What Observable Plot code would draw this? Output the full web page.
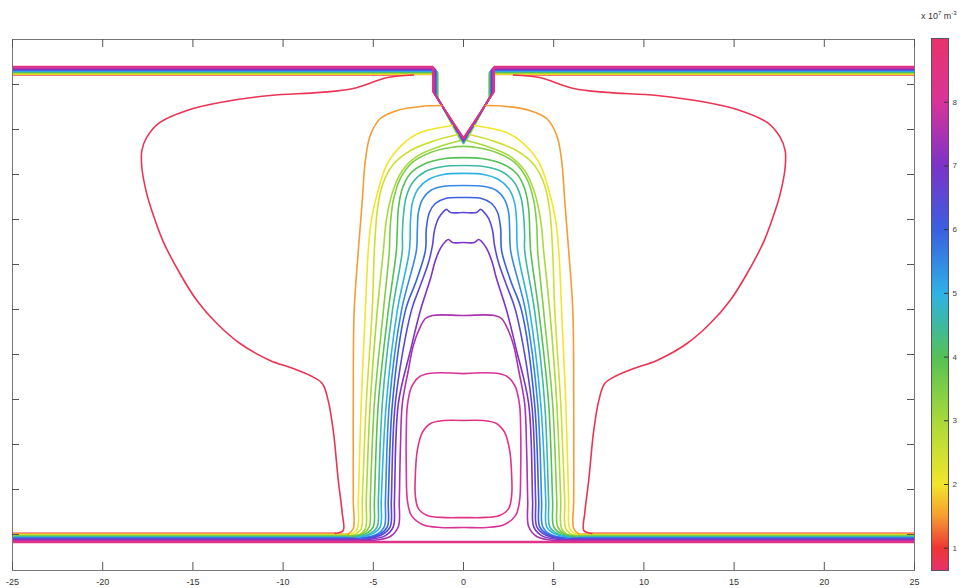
<!DOCTYPE html>
<html><head><meta charset="utf-8">
<script src="https://cdn.jsdelivr.net/npm/d3@7"></script>
<script src="https://cdn.jsdelivr.net/npm/@observablehq/plot@0.6"></script>
<style>
html,body{margin:0;padding:0;background:#fff;}
#wrap{position:relative;width:965px;height:588px;overflow:hidden;font-family:"Liberation Sans",Arial,sans-serif;background:#fff;}
#main{position:absolute;left:0;top:0;}
#cbar{position:absolute;left:920px;top:0;}
#unit{position:absolute;left:921px;top:10px;font-size:9px;color:#333;white-space:nowrap;}
#unit sup{font-size:6px;}
</style></head><body>
<div id="wrap"><div id="main"></div><div id="cbar"></div><div id="unit">x 10<sup>7</sup> m<sup>-3</sup></div></div>
<script>
// ---- axes / scale values ----
const xDomain = [-25, 25];
const yDomain = [-2, 27.5];
const xTicks = [-25, -20, -15, -10, -5, 0, 5, 10, 15, 20, 25];
const yTicks = [0, 2.5, 5, 7.5, 10, 12.5, 15, 17.5, 20, 22.5, 25];
const cbTicks = [1, 2, 3, 4, 5, 6, 7, 8];
const cmapValues = [0.65, 1.0, 1.5, 2.0, 3.0, 4.0, 4.5, 5.0, 6.0, 7.0, 8.0, 9.0];
const cmapColors = ["#e8336b", "#ee3535", "#f59c32", "#f3e52a", "#a9d93a", "#55c155", "#3fb9a0", "#2fb2e6", "#3a5fe0", "#7c33c9", "#d83399", "#e8336b"];

// ---- contour levels (x 10^7 m^-3) ----
const levels = [0.8, 1.5, 2, 2.5, 3, 3.5, 4, 4.5, 5, 5.5, 6, 6.5, 7, 7.5, 8, 8.5];
const topBandY = [25.53, 25.56, 25.58, 25.61, 25.64, 25.67, 25.69, 25.72, 25.75, 25.78, 25.81, 25.83, 25.86, 25.89, 25.94, 26.00];
const bottomBandY = [0.06, 0.03, 0, -0.03, -0.06, -0.08, -0.11, -0.14, -0.17, -0.19, -0.22, -0.25, -0.28, -0.33, -0.39, -0.44];
// notch (V tip) of the upper electrode
const notchWallX = 1.44, notchCornerY = 24.28, notchTipY = 21.72;

// ---- right halves of the contours (x >= 0), mirrored about x = 0 ----
const bell08 = [[25,25.53],[2.78,25.53],[4.22,25.39],[6.11,24.78],[7.94,24.56],[10.72,24.39],[13.5,24.0],[15.33,23.56],[16.83,22.89],[17.56,22.06],[17.83,21.33],[17.83,20.39],[17.56,18.94],[17.28,18.0],[16.67,16.33],[15.72,14.5],[14.78,13.0],[13.67,11.72],[12.39,10.61],[10.72,9.67],[9.44,9.22],[8.5,8.83],[7.83,8.39],[7.5,7.44],[7.22,5.78],[6.94,3.0],[6.72,1.17],[6.67,0.22],[7.11,0.06],[25,0.06]];
const orange15 = [[25,25.56],[1.44,25.56],[1.44,24.28],[1.22,23.83],[2.39,23.78],[3.67,23.56],[4.61,23.11],[5.17,22.17],[5.44,20.78],[5.61,18.56],[5.83,15.78],[6.06,12.44],[6.11,7.28],[6.11,1.89],[6.11,0.33],[6.39,0.03],[25,0.03]];
const yellow20 = [[25,25.58],[1.44,25.58],[1.44,24.28],[0.61,22.72],[2.39,22.33],[3.33,21.72],[4.22,20.61],[4.78,18.94],[5.11,17.44],[5.28,15.78],[5.44,12.44],[5.67,7.28],[5.83,1.89],[5.89,0.33],[6.28,0],[25,0]];
const yellow25 = [[25,25.61],[1.44,25.61],[1.44,24.28],[0.33,22.22],[1.56,21.89],[2.94,21.33],[3.94,20.5],[4.5,19.39],[4.78,18.0],[4.94,15.78],[5.06,12.44],[5.39,7.28],[5.61,1.89],[5.67,0.33],[6.06,-0.03],[25,-0.03]];
const green30 = [[25,25.64],[1.44,25.64],[1.44,24.28],[0.17,21.89],[1.17,21.61],[2.5,21.06],[3.39,20.22],[3.94,19.0],[4.28,17.44],[4.44,15.78],[4.78,12.44],[5.17,7.28],[5.39,1.89],[5.44,0.33],[5.83,-0.06],[25,-0.06]];
const sideHead = [2, 4, 4, 4, 4]; // points of each side contour that lie on the upper surface
const u35 = [[0,21.56],[0.72,21.5],[1.83,21.22],[2.83,20.67],[3.5,19.78],[3.89,18.56],[4.06,17.17],[4.11,15.78],[4.44,12.44],[4.94,7.28],[5.17,1.89],[5.22,0.44],[5.56,0.06],[6.28,-0.08],[25,-0.08]];
const u40 = [[0,20.94],[1.0,20.89],[2.11,20.61],[2.94,20.06],[3.39,19.22],[3.61,18.11],[3.67,16.89],[3.72,15.78],[4.17,12.44],[4.72,7.28],[4.94,1.89],[5.0,0.44],[5.39,0.06],[6.17,-0.11],[25,-0.11]];
const u45 = [[0,20.5],[1.11,20.44],[2.11,20.17],[2.78,19.61],[3.17,18.78],[3.33,17.72],[3.39,16.61],[3.39,15.78],[3.94,12.44],[4.5,7.28],[4.72,1.89],[4.78,0.44],[5.17,0.06],[6.0,-0.14],[25,-0.14]];
const u50 = [[0,20.06],[1.11,20.0],[1.94,19.72],[2.5,19.22],[2.83,18.44],[2.94,17.44],[3.0,15.78],[3.67,12.44],[4.28,7.28],[4.56,1.89],[4.61,0.44],[5.0,0.06],[5.83,-0.17],[25,-0.17]];
const u55 = [[0,19.39],[1.17,19.33],[1.83,19.11],[2.28,18.61],[2.5,17.89],[2.56,16.89],[2.61,15.78],[3.44,12.44],[4.11,7.28],[4.33,1.89],[4.39,0.44],[4.83,0],[5.72,-0.19],[25,-0.19]];
const u60 = [[0,18.72],[1.0,18.67],[1.56,18.39],[1.89,17.89],[2.06,17.0],[2.11,15.78],[2.61,14.11],[3.22,12.44],[3.94,7.28],[4.17,1.89],[4.22,0.44],[4.67,0],[5.61,-0.22],[25,-0.22]];
const u65 = [[0,17.89],[0.72,17.89],[0.94,18.06],[1.11,17.94],[1.39,17.56],[1.61,16.89],[1.72,16.06],[1.94,15.11],[2.39,13.83],[2.89,12.44],[3.78,7.28],[4.0,1.89],[4.06,0.44],[4.5,0],[5.44,-0.25],[25,-0.25]];
const u70 = [[0,16.22],[0.61,16.22],[0.83,16.39],[1.0,16.28],[1.28,15.89],[1.56,15.22],[1.83,14.22],[2.39,12.44],[2.94,10.22],[3.61,7.28],[3.83,1.89],[3.89,0.44],[4.33,-0.06],[5.28,-0.28],[25,-0.28]];
const u75 = [[0,12.17],[1.72,12.17],[2.11,12.0],[2.44,11.44],[2.78,10.5],[3.06,9.11],[3.39,7.28],[3.5,4.67],[3.56,1.89],[3.61,0.44],[4.06,-0.11],[5.06,-0.33],[25,-0.33]];
const loop80 = [[0,8.94],[1.94,8.94],[2.5,8.72],[2.89,8.17],[3.11,7.17],[3.17,5.78],[3.17,3.56],[3.11,1.89],[2.89,1.06],[2.28,0.56],[1.28,0.39],[0,0.39]];
const loop85 = [[0,6.33],[1.11,6.33],[1.83,6.17],[2.28,5.67],[2.56,4.67],[2.67,3.28],[2.67,2.17],[2.5,1.44],[2.0,1.06],[1.0,0.94],[0,0.94]];

// ---- build tables ----
const contourRows = [], bandRows = [];
const add = (arr, id, lvl, pts) => pts.forEach(([x, y]) => arr.push({id, level: lvl, x, y}));
const mirror = pts => pts.map(([x, y]) => [-x, y]);

[bell08, orange15, yellow20, yellow25, green30].forEach((p, i) => {
  const h = sideHead[i];
  const head = p.slice(0, h), body = p.slice(h - 1, p.length - 1), tail = p.slice(-2);
  for (const [side, f] of [["R", q => q], ["L", mirror]]) {
    add(bandRows, `sh${i}${side}`, levels[i], f(head));
    add(contourRows, `s${i}${side}`, levels[i], f(body));
    add(bandRows, `st${i}${side}`, levels[i], f(tail));
  }
});
[u35, u40, u45, u50, u55, u60, u65, u70, u75].forEach((p, k) => {
  const i = k + 5;
  const body = p.slice(0, -1), tail = p.slice(-2);
  add(contourRows, `u${i}`, levels[i], [...mirror(body).reverse(), ...body.slice(1)]);
  add(bandRows, `ut${i}R`, levels[i], tail);
  add(bandRows, `ut${i}L`, levels[i], mirror(tail));
});
[loop80, loop85].forEach((p, k) => {
  const i = k + 14;
  add(contourRows, `l${i}`, levels[i], [...p, ...mirror(p).reverse().slice(1)]);
  add(bandRows, `b${i}`, levels[i], [[xDomain[0], bottomBandY[i]], [xDomain[1], bottomBandY[i]]]);
});
for (let i = 5; i < levels.length; i++) {
  const dy = topBandY[i] - topBandY[5];
  const s = dy * 0.8;
  const half = [[xDomain[1], topBandY[i]], [notchWallX + s, topBandY[i]], [notchWallX + s, notchCornerY + dy], [0, notchTipY + dy]];
  add(bandRows, `t${i}`, levels[i], [...half, ...mirror(half).reverse().slice(1)]);
}

const colorScale = {type: "linear", domain: cmapValues, range: cmapColors};
const font = "Liberation Sans, Arial, sans-serif";

const main = Plot.plot({
  width: 965, height: 588,
  marginLeft: 12, marginRight: 51, marginTop: 39, marginBottom: 18,
  x: {domain: xDomain},
  y: {domain: yDomain, axis: null},
  color: colorScale,
  style: {background: "#fff", fontFamily: font},
  marks: [
    Plot.line(bandRows, {x: "x", y: "y", z: "id", stroke: "level", strokeWidth: 1.6, clip: true}),
    Plot.line(contourRows, {x: "x", y: "y", z: "id", stroke: "level", strokeWidth: 1.6, curve: "catmull-rom", clip: true}),
    Plot.frame({stroke: "#777", strokeWidth: 1}),
    Plot.tickX(xTicks, {x: d => d, insetTop: 523, stroke: "#555"}),
    Plot.tickX(xTicks, {x: d => d, insetBottom: 523, stroke: "#555"}),
    Plot.tickY(yTicks, {y: d => d, insetRight: 895, stroke: "#555"}),
    Plot.tickY(yTicks, {y: d => d, insetLeft: 895, stroke: "#555"}),
    Plot.axisX({ticks: xTicks, tickSize: 0, tickPadding: 8, fontSize: 9, fill: "#333", label: null, tickFormat: d => `${d}`})
  ]
});
document.getElementById("main").appendChild(main);

const cbar = Plot.plot({
  width: 45, height: 588,
  marginLeft: 11, marginRight: 17, marginTop: 38, marginBottom: 18,
  x: {domain: [0, 1], axis: null},
  y: {domain: [cmapValues[0], cmapValues[cmapValues.length - 1]]},
  color: colorScale,
  style: {background: "transparent", fontFamily: font},
  marks: [
    Plot.raster({fill: (x, y) => y, x1: 0, x2: 1, y1: cmapValues[0], y2: cmapValues[cmapValues.length - 1], width: 2, height: 532, imageRendering: "auto"}),
    Plot.frame({stroke: "#555"}),
    Plot.tickY(cbTicks, {y: d => d, insetLeft: 13, stroke: "#333"}),
    Plot.axisY({anchor: "right", ticks: cbTicks, tickSize: 0, tickPadding: 4, fontSize: 8, fill: "#444", label: null, tickFormat: d => `${d}`})
  ]
});
document.getElementById("cbar").appendChild(cbar);
</script></body></html>
